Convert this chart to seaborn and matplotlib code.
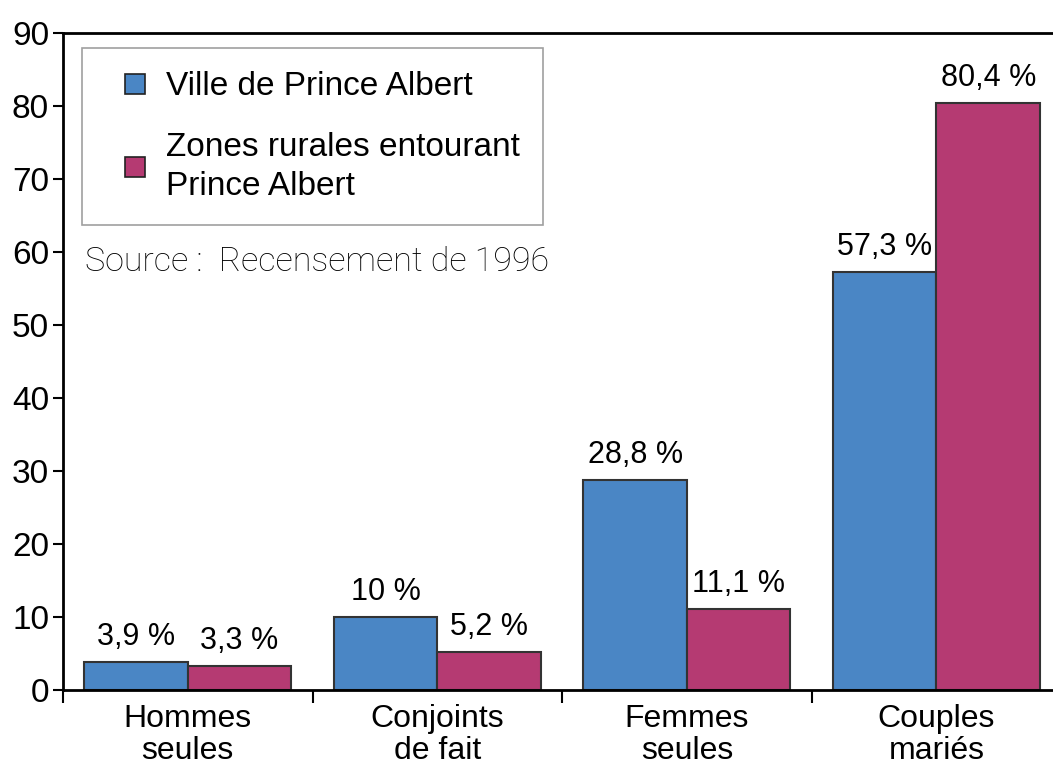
import pandas as pd
import matplotlib.pyplot as plt
import seaborn as sns
from matplotlib.lines import Line2D

# Données (Recensement de 1996)
categories = ['Hommes\nseules', 'Conjoints\nde fait', 'Femmes\nseules', 'Couples\nmariés']
ville = [3.9, 10.0, 28.8, 57.3]
rural = [3.3, 5.2, 11.1, 80.4]
ville_labels = ['3,9 %', '10 %', '28,8 %', '57,3 %']
rural_labels = ['3,3 %', '5,2 %', '11,1 %', '80,4 %']
series = ['Ville de Prince Albert', 'Zones rurales entourant\nPrince Albert']
yticks = [0, 10, 20, 30, 40, 50, 60, 70, 80, 90]

df = pd.DataFrame({
    'categorie': categories * 2,
    'valeur': ville + rural,
    'serie': [series[0]] * 4 + [series[1]] * 4,
})

sns.set_style('white')
plt.rcParams['font.family'] = ['Liberation Sans', 'DejaVu Sans']
plt.rcParams['text.color'] = 'black'
plt.rcParams['xtick.color'] = 'black'
plt.rcParams['ytick.color'] = 'black'

couleurs = ['#4a86c5', '#b53a72']

fig = plt.figure(figsize=(10.53, 7.65), dpi=100)
ax = fig.add_axes([0.0598, 0.098, 0.948, 0.859])

sns.barplot(data=df, x='categorie', y='valeur', hue='serie', palette=couleurs,
            width=0.83, edgecolor='#333333', linewidth=1.5, saturation=1,
            legend=False, ax=ax)

ax.set_xlim(-0.5, 3.5)
ax.set_ylim(0, 90)
ax.set_yticks(yticks)
ax.set_xlabel('')
ax.set_ylabel('')

# étiquettes des barres
for cont, labs in zip(ax.containers, [ville_labels, rural_labels]):
    ax.bar_label(cont, labels=labs, padding=7, fontsize=22, color='black')

# ticks de catégories aux frontières
ax.set_xticks([0, 1, 2, 3])
ax.set_xticklabels(categories, fontsize=23, linespacing=1.1)
ax.set_xticks([-0.5, 0.5, 1.5, 2.5, 3.5], minor=True)
ax.tick_params(axis='x', which='major', length=0, pad=10)
ax.tick_params(axis='x', which='minor', length=9, width=1.5, direction='out')
ax.tick_params(axis='y', length=7, width=1.5, direction='out', labelsize=24, pad=3)
ax.yaxis.set_tick_params(left=True)
ax.xaxis.set_tick_params(which='minor', bottom=True)

for s in ['left', 'bottom', 'top']:
    ax.spines[s].set_color('black')
    ax.spines[s].set_linewidth(2)
ax.spines['right'].set_visible(False)

# légende (marqueurs carrés)
handles = [Line2D([], [], linestyle='none', marker='s', markersize=14.5,
                  markerfacecolor=c, markeredgecolor='#222222', markeredgewidth=1.2)
           for c in couleurs]
leg = ax.legend(handles, series, loc='upper left', bbox_to_anchor=(0.019, 0.977),
                fontsize=24, frameon=True, fancybox=False, handlelength=1.81,
                handletextpad=0.0, labelspacing=0.9,
                borderpad=0.7, borderaxespad=0)
leg.get_frame().set_edgecolor('#888888')
leg.get_frame().set_linewidth(1.2)
for t in leg.get_texts():
    t.set_linespacing(1.3)

ax.text(0.022, 0.651, 'Source :  Recensement de 1996', transform=ax.transAxes,
        fontsize=24.5, family=['Roboto', 'DejaVu Sans'], fontweight='light',
        color='black', va='center')

fig.savefig('out.png', dpi=100)
